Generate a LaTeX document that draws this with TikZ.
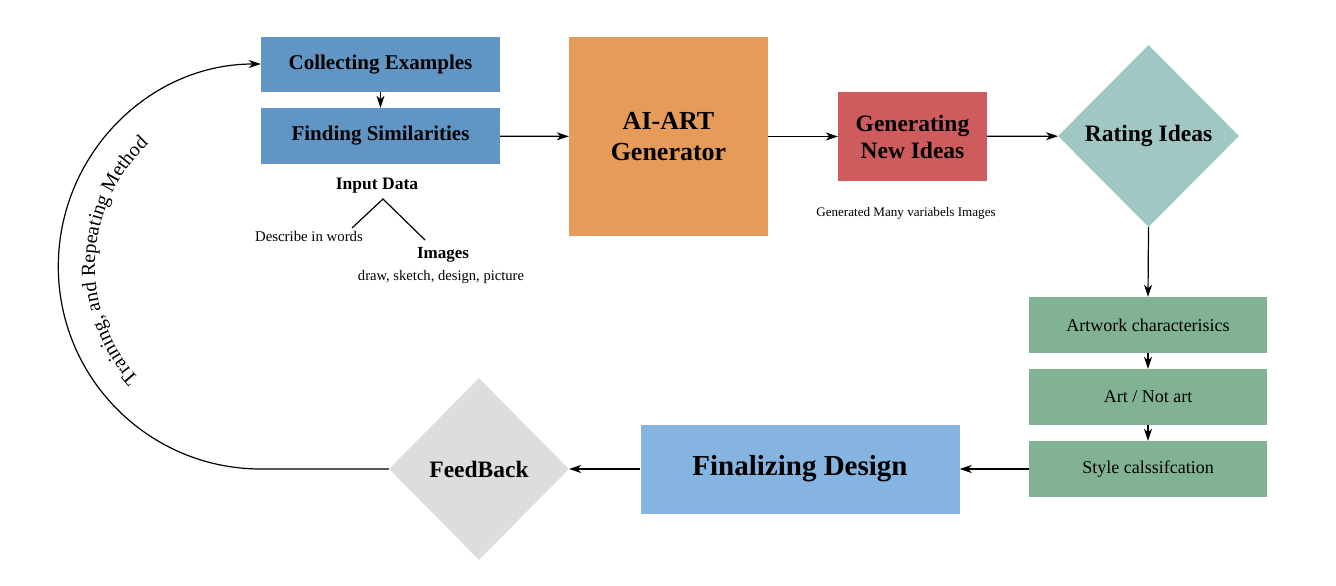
\documentclass[tikz,border=0pt]{standalone}
\usepackage{fontspec}
\setmainfont{Liberation Serif}
\usetikzlibrary{shapes.geometric,arrows.meta,decorations.text}
\definecolor{cblue}{HTML}{6195C4}
\definecolor{corange}{HTML}{E69B59}
\definecolor{cred}{HTML}{CF5C5D}
\definecolor{cteal}{HTML}{A0C7C4}
\definecolor{cgreen}{HTML}{81B293}
\definecolor{clblue}{HTML}{85B4E0}
\definecolor{cgray}{HTML}{DDDDDD}
\tikzset{
  box/.style={rectangle, inner sep=0pt, align=center, font=\bfseries\fontsize{21}{25}\selectfont},
  dia/.style={diamond, inner sep=0pt, align=center, font=\bfseries\fontsize{23.5}{27}\selectfont},
  gbox/.style={rectangle, fill=cgreen, minimum width=238pt, minimum height=56pt, inner sep=0pt, font=\fontsize{18}{21}\selectfont},
  arr/.style={-{Stealth[length=12pt,width=8pt,inset=3.5pt]}, line width=1.2pt},
  plainline/.style={line width=1.2pt},
  lbl/.style={inner sep=0pt}
}
\begin{document}
\begin{tikzpicture}[x=1pt,y=1pt]
\useasboundingbox (0,0) rectangle (1336,-586);
% nodes
\node[box, fill=cblue, minimum width=239pt, minimum height=55pt] (ce) at (380.5,-64.5) {Collecting Examples};
\node[box, fill=cblue, minimum width=239pt, minimum height=56pt] (fs) at (380.5,-136) {Finding Similarities};
\node[box, fill=corange, minimum width=199pt, minimum height=199pt, font=\bfseries\fontsize{26}{31}\selectfont] (ai) at (668.5,-136.5) {AI-ART\\Generator};
\node[box, fill=cred, minimum width=149pt, minimum height=89pt, font=\bfseries\fontsize{23.5}{27}\selectfont] (gn) at (912.5,-136.5) {Generating\\New Ideas};
\node[dia, fill=cteal, minimum width=181pt, minimum height=182pt] (ri) at (1148.5,-136) {Rating Ideas};
\node[gbox] (ac) at (1148,-325) {Artwork characterisics};
\node[gbox] (an) at (1148,-397) {Art / Not art};
\node[gbox] (sc) at (1148,-469) {Style calssifcation};
\node[box, fill=clblue, minimum width=319pt, minimum height=89pt, font=\bfseries\fontsize{29}{34}\selectfont] (fd) at (800,-469) {Finalizing Design};
\node[dia, fill=cgray, minimum width=180pt, minimum height=182pt] (fb) at (479,-469) {FeedBack};
% labels
\node[lbl, font=\bfseries\fontsize{17.5}{21}\selectfont] (ind) at (377,-186) {Input Data};
\node[lbl, font=\fontsize{14.8}{18}\selectfont] (dw) at (309,-236) {Describe in words};
\node[lbl, font=\bfseries\fontsize{17}{20}\selectfont] (im) at (443,-255) {Images};
\node[lbl, font=\fontsize{14.6}{18}\selectfont] (dsp) at (441,-277) {draw, sketch, design, picture};
\node[lbl, font=\fontsize{13.1}{16}\selectfont] (gm) at (906,-213) {Generated Many variabels Images};
\coordinate (apex) at (383,-199);
\coordinate (lend) at (352,-228);
\coordinate (rend) at (425,-240);
\draw[plainline] (lend) -- (apex) -- (rend);
% connectors
\draw[arr] (ce) -- (fs);
\draw[arr] (fs) -- (ai);
\draw[arr] (ai) -- (gn);
\draw[arr] (gn) -- (ri);
\draw[arr] (ri.south) -- (ac.north);
\draw[arr] (ac) -- (an);
\draw[arr] (an) -- (sc);
\draw[arr] (sc) -- (fd);
\draw[arr] (fd) -- (fb);
\draw[arr] (fb.west) -- (fb.west -| ce.west) arc[start angle=270, end angle=90, radius=202.5pt];
% curved text
\path[decorate, decoration={text along path, text align=center,
  text={|\fontsize{20}{24}\selectfont|Training, and Repeating Method}}]
  (261,-266.5) ++(238:166) arc[start angle=238, end angle=117, radius=166pt];
\end{tikzpicture}
\end{document}
